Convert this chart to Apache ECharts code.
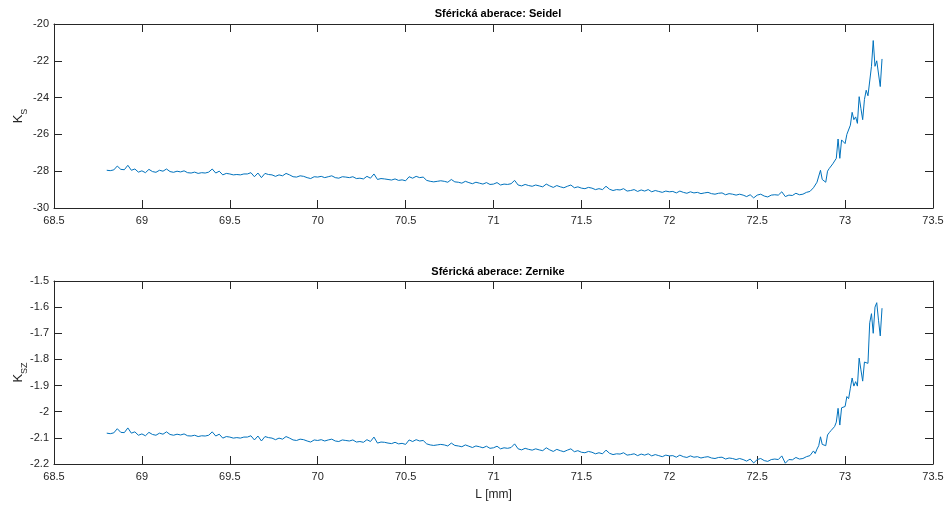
<!DOCTYPE html>
<html>
<head>
<meta charset="utf-8">
<script src="https://cdn.jsdelivr.net/npm/echarts@6/dist/echarts.min.js"></script>
<style>html,body{margin:0;padding:0;background:#fff;}#c{width:946px;height:505px;}</style>
</head>
<body>
<div id="c"></div>
<script>
// Sample positions L [mm]
const xL = [
68.80,68.82,68.84,68.86,68.88,68.90,68.92,68.94,68.96,68.98,
69.00,69.02,69.04,69.06,69.08,69.10,69.12,69.14,69.16,69.18,
69.20,69.22,69.24,69.26,69.28,69.30,69.32,69.34,69.36,69.38,
69.40,69.42,69.44,69.46,69.48,69.50,69.52,69.54,69.56,69.58,
69.60,69.62,69.64,69.66,69.68,69.70,69.72,69.74,69.76,69.78,
69.80,69.82,69.84,69.86,69.88,69.90,69.92,69.94,69.96,69.98,
70.00,70.02,70.04,70.06,70.08,70.10,70.12,70.14,70.16,70.18,
70.20,70.22,70.24,70.26,70.28,70.30,70.32,70.34,70.36,70.38,
70.40,70.42,70.44,70.46,70.48,70.50,70.52,70.54,70.56,70.58,
70.60,70.62,70.64,70.66,70.68,70.70,70.72,70.74,70.76,70.78,
70.80,70.82,70.84,70.86,70.88,70.90,70.92,70.94,70.96,70.98,
71.00,71.02,71.04,71.06,71.08,71.10,71.12,71.14,71.16,71.18,
71.20,71.22,71.24,71.26,71.28,71.30,71.32,71.34,71.36,71.38,
71.40,71.42,71.44,71.46,71.48,71.50,71.52,71.54,71.56,71.58,
71.60,71.62,71.64,71.66,71.68,71.70,71.72,71.74,71.76,71.78,
71.80,71.82,71.84,71.86,71.88,71.90,71.92,71.94,71.96,71.98,
72.00,72.02,72.04,72.06,72.08,72.10,72.12,72.14,72.16,72.18,
72.20,72.22,72.24,72.26,72.28,72.30,72.32,72.34,72.36,72.38,
72.40,72.42,72.44,72.46,72.48,72.50,72.52,72.54,72.56,72.58,
72.60,72.62,72.64,72.66,72.68,72.70,72.72,72.74,72.76,72.78,
72.80,72.81,72.82,72.83,72.84,72.85,72.86,72.87,72.88,72.89,
72.90,72.91,72.92,72.93,72.94,72.95,72.96,72.97,72.98,72.99,
73.00,73.01,73.02,73.03,73.04,73.05,73.06,73.07,73.08,73.09,
73.10,73.11,73.12,73.13,73.14,73.15,73.16,73.17,73.18,73.19,
73.20,73.21
];

// Spherical aberration: Seidel (K_S)
const kSeidel = [
-27.95,-27.97,-27.93,-27.72,-27.90,-27.92,-27.68,-27.95,-27.88,-28.05,
-27.98,-28.08,-27.90,-28.02,-28.06,-27.95,-28.00,-27.88,-28.02,-28.06,
-28.00,-28.04,-27.98,-28.08,-28.10,-28.05,-28.12,-28.08,-28.10,-28.05,
-27.88,-28.10,-28.00,-28.20,-28.12,-28.15,-28.20,-28.18,-28.20,-28.15,
-28.15,-28.08,-28.30,-28.10,-28.35,-28.12,-28.18,-28.20,-28.28,-28.20,
-28.25,-28.12,-28.20,-28.30,-28.32,-28.25,-28.28,-28.35,-28.40,-28.30,
-28.32,-28.28,-28.35,-28.30,-28.25,-28.35,-28.38,-28.30,-28.32,-28.35,
-28.30,-28.40,-28.38,-28.42,-28.28,-28.38,-28.15,-28.45,-28.40,-28.42,
-28.45,-28.48,-28.42,-28.50,-28.47,-28.52,-28.30,-28.38,-28.28,-28.35,
-28.32,-28.50,-28.55,-28.58,-28.55,-28.52,-28.55,-28.60,-28.45,-28.58,
-28.60,-28.65,-28.55,-28.62,-28.68,-28.60,-28.65,-28.70,-28.62,-28.72,
-28.70,-28.62,-28.75,-28.70,-28.72,-28.68,-28.50,-28.75,-28.80,-28.72,
-28.78,-28.82,-28.75,-28.80,-28.85,-28.70,-28.80,-28.88,-28.78,-28.85,
-28.90,-28.82,-28.75,-28.90,-28.85,-28.92,-28.95,-28.88,-28.92,-29.00,
-28.95,-29.00,-28.82,-28.98,-29.05,-29.00,-29.02,-28.95,-29.08,-29.05,
-29.00,-29.10,-29.02,-29.08,-29.00,-29.12,-29.05,-29.10,-29.15,-29.08,
-29.12,-29.10,-29.18,-29.08,-29.15,-29.20,-29.12,-29.18,-29.15,-29.22,
-29.18,-29.15,-29.22,-29.25,-29.20,-29.18,-29.28,-29.22,-29.25,-29.30,
-29.25,-29.30,-29.38,-29.28,-29.45,-29.30,-29.25,-29.35,-29.40,-29.30,
-29.28,-29.30,-29.12,-29.38,-29.30,-29.32,-29.20,-29.28,-29.25,-29.15,
-29.10,-29.05,-28.90,-28.95,-28.60,-28.50,-27.95,-28.45,-28.40,-28.60,
-28.00,-27.85,-27.75,-27.60,-27.55,-27.30,-26.25,-27.30,-26.30,-26.40,
-26.50,-26.00,-26.10,-25.50,-24.80,-25.20,-25.05,-25.40,-23.95,-24.60,
-25.20,-24.10,-23.60,-23.90,-23.85,-22.30,-20.90,-22.30,-22.00,-21.95,
-23.40,-21.90
];

// Spherical aberration: Zernike (K_SZ)
const kZernike = [
-2.082,-2.084,-2.081,-2.065,-2.079,-2.080,-2.062,-2.082,-2.077,-2.090,
-2.085,-2.092,-2.079,-2.087,-2.090,-2.082,-2.086,-2.077,-2.087,-2.090,
-2.086,-2.089,-2.085,-2.092,-2.093,-2.090,-2.095,-2.092,-2.093,-2.090,
-2.077,-2.093,-2.086,-2.101,-2.095,-2.097,-2.101,-2.099,-2.101,-2.097,
-2.097,-2.092,-2.108,-2.093,-2.112,-2.095,-2.099,-2.101,-2.107,-2.101,
-2.105,-2.095,-2.101,-2.108,-2.110,-2.105,-2.107,-2.112,-2.116,-2.108,
-2.110,-2.107,-2.112,-2.108,-2.105,-2.112,-2.114,-2.108,-2.110,-2.112,
-2.108,-2.116,-2.114,-2.117,-2.107,-2.114,-2.097,-2.120,-2.116,-2.117,
-2.120,-2.122,-2.117,-2.123,-2.121,-2.125,-2.108,-2.114,-2.107,-2.112,
-2.110,-2.123,-2.127,-2.129,-2.127,-2.125,-2.127,-2.131,-2.120,-2.129,
-2.131,-2.134,-2.127,-2.132,-2.137,-2.131,-2.134,-2.138,-2.132,-2.140,
-2.138,-2.132,-2.142,-2.138,-2.140,-2.137,-2.123,-2.142,-2.146,-2.140,
-2.144,-2.147,-2.142,-2.146,-2.149,-2.138,-2.146,-2.152,-2.144,-2.149,
-2.153,-2.147,-2.142,-2.153,-2.149,-2.155,-2.157,-2.152,-2.155,-2.161,
-2.157,-2.161,-2.147,-2.159,-2.164,-2.161,-2.162,-2.157,-2.166,-2.164,
-2.161,-2.168,-2.162,-2.166,-2.161,-2.169,-2.164,-2.168,-2.172,-2.166,
-2.169,-2.168,-2.174,-2.166,-2.172,-2.175,-2.169,-2.174,-2.172,-2.177,
-2.174,-2.172,-2.177,-2.179,-2.175,-2.174,-2.181,-2.177,-2.179,-2.183,
-2.179,-2.183,-2.189,-2.181,-2.196,-2.183,-2.179,-2.187,-2.190,-2.183,
-2.181,-2.183,-2.169,-2.197,-2.183,-2.184,-2.175,-2.181,-2.179,-2.172,
-2.168,-2.165,-2.150,-2.160,-2.143,-2.130,-2.096,-2.125,-2.122,-2.130,
-2.089,-2.080,-2.072,-2.065,-2.057,-2.040,-1.987,-2.051,-1.985,-1.990,
-1.980,-1.942,-1.950,-1.910,-1.871,-1.902,-1.885,-1.902,-1.795,-1.840,
-1.883,-1.810,-1.810,-1.815,-1.660,-1.625,-1.700,-1.600,-1.583,-1.650,
-1.710,-1.604
];

const titles = ['Sférická aberace: Seidel', 'Sférická aberace: Zernike'];
const xTicks = {min: 68.5, max: 73.5, step: 0.5};
const yTop = {min: -30, max: -20, step: 2};
const yBot = {min: -2.2, max: -1.5, step: 0.1};

const FONT = 'Liberation Sans, Arial, Helvetica, sans-serif';
const AX = '#262626';
const chart = echarts.init(document.getElementById('c'), null, {renderer: 'canvas'});

function pairs(xs, ys) { return xs.map((x, i) => [x, ys[i]]); }

function xAx(gi, pos, showLabel, name) {
  return {
    type: 'value', gridIndex: gi, position: pos,
    min: xTicks.min, max: xTicks.max, interval: xTicks.step,
    axisLine: {show: true, onZero: false, lineStyle: {color: AX, width: 1}},
    axisTick: {show: true, inside: true, length: 8, lineStyle: {color: AX}},
    axisLabel: {show: showLabel, color: AX, fontSize: 11, fontFamily: FONT, margin: 7,
      hideOverlap: false},
    splitLine: {show: false},
    name: name || '', nameLocation: 'middle', nameGap: 25, nameMoveOverlap: false,
    nameTextStyle: {color: AX, fontSize: 12, fontFamily: FONT}
  };
}
function yAx(gi, pos, r, showLabel, sub) {
  return {
    type: 'value', gridIndex: gi, position: pos,
    min: r.min, max: r.max, interval: r.step,
    axisLine: {show: true, onZero: false, lineStyle: {color: AX, width: 1}},
    axisTick: {show: true, inside: true, length: 8, lineStyle: {color: AX}},
    axisLabel: {show: showLabel, color: AX, fontSize: 11, fontFamily: FONT, margin: 5,
      formatter: v => String(+v.toFixed(1))},
    splitLine: {show: false},
    name: sub ? '{k|K}{s|' + sub + '}' : '', nameLocation: 'middle', nameGap: 29, nameRotate: 90,
    nameMoveOverlap: false,
    nameTextStyle: {
      color: AX, fontFamily: FONT,
      rich: {
        k: {fontSize: 13, fontFamily: FONT, color: AX, lineHeight: 18, verticalAlign: 'bottom'},
        s: {fontSize: 9, fontFamily: FONT, color: AX, lineHeight: 18, verticalAlign: 'bottom', padding: [0, 0, -4, 0]}
      }
    }
  };
}

const option = {
  animation: false,
  backgroundColor: '#fff',
  title: [
    {text: titles[0], left: 493, top: 3, textAlign: 'center',
     textStyle: {fontSize: 11, fontWeight: 'bold', color: '#000', fontFamily: FONT}},
    {text: titles[1], left: 493, top: 261, textAlign: 'center',
     textStyle: {fontSize: 11, fontWeight: 'bold', color: '#000', fontFamily: FONT}}
  ],
  grid: [
    {left: 54, top: 24, width: 879, height: 184, containLabel: false, outerBoundsMode: 'none'},
    {left: 54, top: 281, width: 879, height: 183, containLabel: false, outerBoundsMode: 'none'}
  ],
  xAxis: [
    xAx(0, 'bottom', true), xAx(0, 'top', false),
    xAx(1, 'bottom', true, 'L [mm]'), xAx(1, 'top', false)
  ],
  yAxis: [
    yAx(0, 'left', yTop, true, 'S'), yAx(0, 'right', yTop, false),
    yAx(1, 'left', yBot, true, 'SZ'), yAx(1, 'right', yBot, false)
  ],
  series: [
    {type: 'line', xAxisIndex: 0, yAxisIndex: 0, data: pairs(xL, kSeidel), showSymbol: false,
     lineStyle: {color: '#0072BD', width: 1}, clip: true},
    {type: 'line', xAxisIndex: 2, yAxisIndex: 2, data: pairs(xL, kZernike), showSymbol: false,
     lineStyle: {color: '#0072BD', width: 1}, clip: true}
  ]
};
chart.setOption(option);
</script>
</body>
</html>
